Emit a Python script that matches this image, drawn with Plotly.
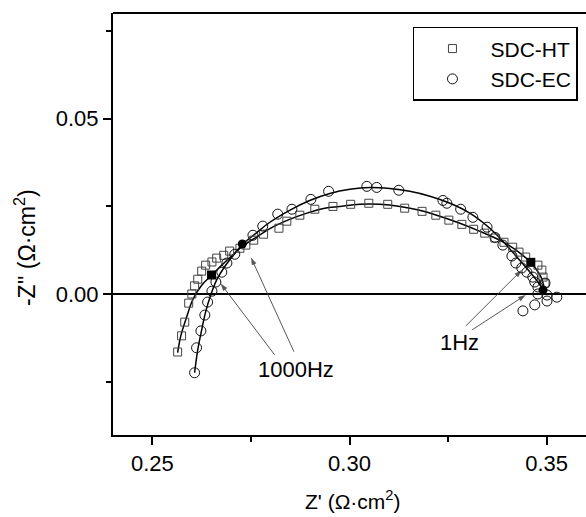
import plotly.graph_objects as go

# Nyquist impedance data, Z' and -Z'' in ohm*cm^2
ht_zre = [0.2564, 0.2574, 0.2582, 0.2592, 0.2600, 0.2607, 0.2615, 0.2625, 0.2635, 0.2651,
          0.2663, 0.2681, 0.2696, 0.2722, 0.2737, 0.2757, 0.2782, 0.2821, 0.2841, 0.2874,
          0.2912, 0.2958, 0.3003, 0.3049, 0.3097, 0.3140, 0.3184, 0.3219, 0.3252, 0.3285,
          0.3315, 0.3343, 0.3369, 0.3392, 0.3414, 0.3430, 0.3447, 0.3478, 0.3488, 0.3491,
          0.3496]
ht_zim = [-0.0164, -0.0118, -0.0079, -0.0025, 0.0001, 0.0024, 0.0043, 0.0066, 0.0083, 0.0092,
          0.0103, 0.0111, 0.0123, 0.0131, 0.0140, 0.0154, 0.0171, 0.0188, 0.0208, 0.0225,
          0.0242, 0.0250, 0.0256, 0.0259, 0.0256, 0.0245, 0.0236, 0.0225, 0.0211, 0.0199,
          0.0185, 0.0174, 0.0160, 0.0148, 0.0134, 0.0120, 0.0106, 0.0083, 0.0069, 0.0049,
          0.0032]

ec_zre = [0.2607, 0.2612, 0.2623, 0.2633, 0.2640, 0.2651, 0.2661, 0.2676, 0.2689, 0.2709,
          0.2755, 0.2780, 0.2818, 0.2854, 0.2902, 0.2947, 0.3044, 0.3069, 0.3125, 0.3237,
          0.3247, 0.3282, 0.3313, 0.3349, 0.3369, 0.3389, 0.3412, 0.3422, 0.3437, 0.3450,
          0.3465, 0.3470, 0.3496, 0.3478, 0.3478, 0.3501, 0.3526, 0.3501, 0.3470, 0.3440]
ec_zim = [-0.0223, -0.0152, -0.0104, -0.0059, -0.0022, 0.0009, 0.0035, 0.0063, 0.0089, 0.0114,
          0.0168, 0.0194, 0.0228, 0.0242, 0.0270, 0.0293, 0.0307, 0.0304, 0.0296, 0.0267,
          0.0259, 0.0242, 0.0219, 0.0191, 0.0162, 0.0140, 0.0109, 0.0089, 0.0075, 0.0063,
          0.0049, 0.0035, 0.0032, 0.0021, 0.0001, -0.0002, -0.0008, -0.0019, -0.0030, -0.0047]

# Equivalent-circuit fit curves
ht_fit_zre = [0.2564, 0.2572, 0.2587, 0.2602, 0.2625, 0.2651, 0.2676, 0.2701, 0.2729, 0.2760,
              0.2805, 0.2848, 0.2892, 0.2937, 0.2975, 0.3026, 0.3077, 0.3128, 0.3178, 0.3229,
              0.3280, 0.3331, 0.3381, 0.3420, 0.3445, 0.3460, 0.3475, 0.3486, 0.3493]
ht_fit_zim = [-0.0166, -0.0118, -0.0064, -0.0016, 0.0026, 0.0055, 0.0083, 0.0109, 0.0137, 0.0160,
              0.0191, 0.0213, 0.0231, 0.0245, 0.0250, 0.0256, 0.0256, 0.0250, 0.0239, 0.0222,
              0.0202, 0.0179, 0.0154, 0.0128, 0.0106, 0.0092, 0.0069, 0.0049, 0.0024]

ec_fit_zre = [0.2607, 0.2615, 0.2625, 0.2635, 0.2648, 0.2663, 0.2681, 0.2704, 0.2729, 0.2760,
              0.2798, 0.2848, 0.2899, 0.2950, 0.3001, 0.3052, 0.3102, 0.3153, 0.3204, 0.3255,
              0.3305, 0.3356, 0.3394, 0.3427, 0.3458, 0.3478, 0.3491]
ec_fit_zim = [-0.0223, -0.0158, -0.0101, -0.0050, -0.0002, 0.0041, 0.0075, 0.0109, 0.0143, 0.0171,
              0.0205, 0.0239, 0.0267, 0.0287, 0.0299, 0.0304, 0.0301, 0.0293, 0.0279, 0.0259,
              0.0231, 0.0188, 0.0145, 0.0103, 0.0063, 0.0035, 0.0012]

# Characteristic frequency points (1000 Hz, 1 Hz)
ht_freq_zre = [0.2650, 0.3460]
ht_freq_zim = [0.0055, 0.0091]
ec_freq_zre = [0.2728, 0.3491]
ec_freq_zim = [0.0143, 0.0012]

# Pointer arrows: (tail x, tail y, tip x, tip y)
arrows = [
    (0.2810, -0.0172, 0.2673, 0.0031),
    (0.2859, -0.0163, 0.2750, 0.0105),
    (0.3295, -0.0090, 0.3437, 0.0069),
    (0.3311, -0.0101, 0.3447, -0.0002),
]
labels = [(0.2864, -0.0213, "1000Hz"), (0.3280, -0.0138, "1Hz")]

FONT = "Liberation Sans, Arial, sans-serif"

fig = go.Figure()

for fx, fy in ((ht_fit_zre, ht_fit_zim), (ec_fit_zre, ec_fit_zim)):
    fig.add_trace(go.Scatter(x=fx, y=fy, mode="lines",
                             line=dict(color="black", width=1.5, shape="spline"),
                             showlegend=False, hoverinfo="skip"))

fig.add_trace(go.Scatter(x=ht_zre, y=ht_zim, mode="markers", name="SDC-HT",
                         marker=dict(symbol="square-open", size=8, color="#444",
                                     line=dict(width=1, color="#444"))))
fig.add_trace(go.Scatter(x=ec_zre, y=ec_zim, mode="markers", name="SDC-EC",
                         marker=dict(symbol="circle-open", size=10, color="#111",
                                     line=dict(width=1, color="#111"))))

fig.add_trace(go.Scatter(x=ht_freq_zre, y=ht_freq_zim, mode="markers", showlegend=False,
                         marker=dict(symbol="square", size=9, color="black")))
fig.add_trace(go.Scatter(x=ec_freq_zre, y=ec_freq_zim, mode="markers", showlegend=False,
                         marker=dict(symbol="circle", size=9, color="black")))

# thin leader lines ending in a filled arrowhead at the tip
for sx, sy, tx, ty in arrows:
    fig.add_trace(go.Scatter(x=[sx, tx], y=[sy, ty], mode="lines+markers", showlegend=False,
                             hoverinfo="skip", line=dict(color="#444", width=0.9),
                             marker=dict(symbol=["circle", "arrow"], size=[0, 8],
                                         angleref="previous", color="#111",
                                         line=dict(width=0))))

annotations = []
for lx, ly, txt in labels:
    annotations.append(dict(x=lx, y=ly, xref="x", yref="y", text=txt, showarrow=False,
                            font=dict(size=22, color="black", family=FONT)))

annotations.append(dict(x=0.507, y=-0.19, xref="paper", yref="paper", text="Z' (Ω·cm<sup>2</sup>)",
                        showarrow=False, xanchor="center", yanchor="bottom",
                        font=dict(size=21, color="black", family=FONT)))
annotations.append(dict(x=-0.186, y=0.443, xref="paper", yref="paper", text="-Z'' (Ω·cm<sup>2</sup>)",
                        showarrow=False, xanchor="center", yanchor="middle", textangle=-90,
                        font=dict(size=23, color="black", family=FONT)))

fig.update_layout(
    width=586, height=517,
    margin=dict(l=113, r=0, t=13, b=82),
    paper_bgcolor="white", plot_bgcolor="white",
    font=dict(family=FONT, size=22, color="black"),
    annotations=annotations,
    shapes=[dict(type="line", xref="paper", yref="paper", x0=0, x1=1, y0=1, y1=1,
                 line=dict(color="black", width=2))],
    legend=dict(x=0.983, y=0.967, xanchor="right", yanchor="top", itemwidth=66,
                entrywidth=100, entrywidthmode="pixels",
                bordercolor="black", borderwidth=1.5, bgcolor="white",
                font=dict(size=21, family=FONT)),
    xaxis=dict(range=[0.24, 0.36], tick0=0, dtick=0.05, tickformat=".2f",
               showgrid=False, zeroline=False, showline=True, linecolor="black", linewidth=2,
               ticks="outside", ticklen=8, tickwidth=1.5, tickcolor="black",
               minor=dict(dtick=0.025, ticks="outside", ticklen=5, tickwidth=1.5, tickcolor="black"),
               tickfont=dict(size=22)),
    yaxis=dict(range=[-0.04, 0.08], tick0=0, dtick=0.05, tickformat=".2f",
               showgrid=False, zeroline=True, zerolinecolor="black", zerolinewidth=1.5,
               showline=True, linecolor="black", linewidth=2,
               ticks="outside", ticklen=8, tickwidth=1.5, tickcolor="black",
               minor=dict(dtick=0.025, ticks="outside", ticklen=5, tickwidth=1.5, tickcolor="black"),
               tickfont=dict(size=22)),
)

fig.write_html("out.html")
